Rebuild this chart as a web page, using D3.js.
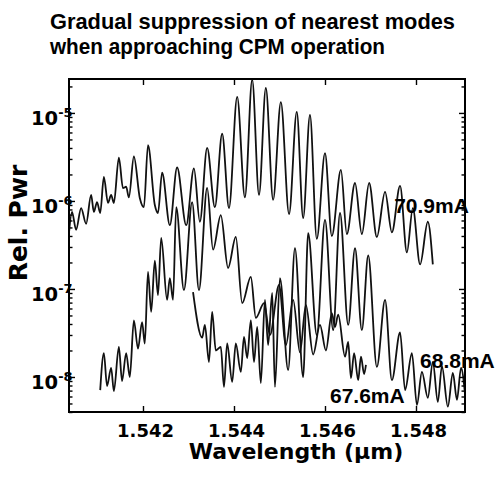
<!DOCTYPE html>
<html>
<head>
<meta charset="utf-8">
<script src="https://cdn.jsdelivr.net/npm/d3@7"></script>
<style>
  body { margin: 0; background: #fff; }
  .chart text { fill: #000; font-weight: bold; }
  .title { font-family: "Liberation Sans", Arial, sans-serif; font-size: 21.5px; }
  .note { font-family: "Liberation Sans", Arial, sans-serif; font-size: 21px; }
  .axisText { font-family: "DejaVu Sans", sans-serif; }
</style>
</head>
<body>
<div class="chart"></div>
<script>
// Spectra (wavelength in um, relative power)
var wl709 = [1.54037, 1.54044, 1.54053, 1.54064, 1.54075, 1.54086, 1.54092, 1.54099, 1.54106, 1.54114,
  1.54123, 1.54130, 1.54136, 1.54147, 1.54156, 1.54163, 1.54169, 1.54180, 1.54193, 1.54202,
  1.54211, 1.54226, 1.54233, 1.54242, 1.54259, 1.54275, 1.54295, 1.54312, 1.54325, 1.54341,
  1.54358, 1.54374, 1.54389, 1.54407, 1.54424, 1.54440, 1.54455, 1.54470, 1.54486, 1.54503,
  1.54521, 1.54538, 1.54552, 1.54567, 1.54582, 1.54600, 1.54615, 1.54635, 1.54648, 1.54666,
  1.54681, 1.54697, 1.54714, 1.54732, 1.54747, 1.54765, 1.54780, 1.54793, 1.54809, 1.54826,
  1.54837];
var pw709 = [4.1e-7, 7.5e-7, 4.7e-7, 8.3e-7, 5.5e-7, 1.17e-6, 7.5e-7, 9.7e-7, 7.3e-7, 1.87e-6,
  9.5e-7, 1.17e-6, 9.5e-7, 3.1e-6, 1.4e-6, 1.45e-6, 1.1e-6, 3.2e-6, 1.08e-6, 8.5e-7,
  4.3e-6, 9.0e-7, 7.3e-7, 2.1e-6, 5.3e-7, 2.4e-6, 5.3e-7, 2.35e-6, 5.8e-7, 4.0e-6,
  8.5e-7, 5.8e-6, 8.3e-7, 1.52e-5, 1.1e-6, 2.4e-5, 1.17e-6, 1.92e-5, 1.03e-6, 1.33e-5,
  7.1e-7, 1.03e-5, 6.4e-7, 9.5e-6, 3.7e-7, 3.5e-6, 4.0e-7, 2.25e-6, 4.2e-7, 1.6e-6,
  4.2e-7, 1.6e-6, 3.9e-7, 1.27e-6, 4.4e-7, 1.48e-6, 2.6e-7, 8.3e-7, 1.9e-7, 5.8e-7,
  1.9e-7];

var wl688 = [1.54310, 1.54330, 1.54336, 1.54345, 1.54352, 1.54360, 1.54371, 1.54378, 1.54385, 1.54396,
  1.54404, 1.54415, 1.54422, 1.54429, 1.54437, 1.54444, 1.54451, 1.54459, 1.54468, 1.54475,
  1.54484, 1.54490, 1.54501, 1.54519, 1.54534, 1.54552, 1.54563, 1.54582, 1.54600, 1.54618,
  1.54633, 1.54651, 1.54666, 1.54681, 1.54695, 1.54714, 1.54732, 1.54747, 1.54765, 1.54776,
  1.54791, 1.54802, 1.54813, 1.54826, 1.54837, 1.54848, 1.54857, 1.54870, 1.54881, 1.54890,
  1.54899, 1.54908];
var pw688 = [9.2e-8, 2.8e-8, 3.9e-8, 1.48e-8, 5.5e-8, 2.0e-8, 2.2e-8, 7.7e-9, 2.4e-8, 8.8e-9,
  2.4e-8, 1.14e-8, 2.85e-8, 1.64e-8, 4.4e-8, 1.48e-8, 3.7e-8, 8.5e-9, 7.5e-8, 2.3e-8,
  9.0e-8, 7.7e-9, 1.33e-7, 1.2e-8, 2.9e-7, 1.0e-8, 4.3e-7, 3.0e-8, 6.1e-7, 3.4e-8,
  7.3e-7, 3.9e-8, 2.9e-7, 3.4e-8, 2.4e-7, 1.3e-8, 7.5e-8, 9.2e-9, 3.2e-8, 7.1e-9,
  1.87e-8, 4.8e-9, 1.14e-8, 5.8e-9, 1.48e-8, 5.2e-9, 1.33e-8, 4.6e-9, 1.11e-8, 5.5e-9,
  1.27e-8, 6.2e-9];

var wl676 = [1.54106, 1.54114, 1.54121, 1.54130, 1.54136, 1.54147, 1.54154, 1.54163, 1.54171, 1.54180,
  1.54189, 1.54198, 1.54204, 1.54211, 1.54218, 1.54226, 1.54233, 1.54240, 1.54253, 1.54259,
  1.54266, 1.54273, 1.54290, 1.54308, 1.54323, 1.54341, 1.54354, 1.54371, 1.54387, 1.54404,
  1.54418, 1.54437, 1.54448, 1.54466, 1.54479, 1.54499, 1.54514, 1.54530, 1.54545, 1.54558,
  1.54574, 1.54589, 1.54602, 1.54615, 1.54622, 1.54629, 1.54644, 1.54651, 1.54657, 1.54664,
  1.54673, 1.54679, 1.54686, 1.54690];
var pw676 = [7.1e-9, 1.87e-8, 7.9e-9, 1.27e-8, 6.9e-9, 2.2e-8, 9.0e-9, 1.87e-8, 1.0e-8, 4.4e-8,
  2.1e-8, 4.2e-8, 2.4e-8, 1.56e-7, 5.5e-8, 2.1e-7, 8.5e-8, 3.8e-7, 7.5e-8, 1.33e-7,
  7.5e-8, 8.5e-7, 9.7e-8, 9.7e-7, 9.7e-8, 1.41e-6, 2.8e-7, 6.9e-7, 1.73e-7, 3.9e-7,
  6.9e-8, 1.37e-7, 4.7e-8, 6.9e-8, 3.0e-8, 1.11e-7, 2.3e-8, 7.5e-8, 1.9e-8, 6.6e-8,
  1.8e-8, 3.9e-8, 2.0e-8, 5.3e-8, 3.7e-8, 5.1e-8, 1.7e-8, 2.5e-8, 9.7e-9, 1.87e-8,
  9.2e-9, 1.7e-8, 1.08e-8, 1.37e-8];

var traceNames = ["70.9mA", "68.8mA", "67.6mA"];
var xTicks = [1.542, 1.544, 1.546, 1.548];
var yTicks = [1e-5, 1e-6, 1e-7, 1e-8];
var yTickExp = ["-5", "-6", "-7", "-8"];
var titleLines = ["Gradual suppression of nearest modes", "when approaching CPM operation"];

var svgWidth = 498;
var svgHeight = 477;

var margin = {
  top: 79,
  right: 33,
  bottom: 65,
  left: 69
};

var width = svgWidth - margin.left - margin.right;
var height = svgHeight - margin.top - margin.bottom;

var svg = d3.select(".chart")
  .append("svg")
  .attr("width", svgWidth)
  .attr("height", svgHeight);

var chartGroup = svg.append("g")
  .attr("transform", `translate(${margin.left}, ${margin.top})`);

// Scales
var xScale = d3.scaleLinear()
  .domain([1.540374, 1.549077])
  .range([0, width]);

var yScale = d3.scaleLog()
  .domain([4.0e-9, 2.43e-5])
  .range([height, 0]);

// Title, two lines
var titleWidths = [405, 335];
svg.selectAll(".title")
  .data(titleLines)
  .enter()
  .append("text")
  .attr("class", "title")
  .attr("x", 50)
  .attr("y", (d, i) => 29 + i * 24.5)
  .attr("textLength", (d, i) => titleWidths[i])
  .attr("lengthAdjust", "spacingAndGlyphs")
  .text(d => d);

// Traces
chartGroup.append("clipPath")
  .attr("id", "plotClip")
  .append("rect")
  .attr("width", width)
  .attr("height", height);

var line = d3.line()
  .x(d => xScale(d[0]))
  .y(d => yScale(d[1]))
  .curve(d3.curveMonotoneX);

var traces = [d3.zip(wl709, pw709), d3.zip(wl688, pw688), d3.zip(wl676, pw676)];

chartGroup.append("g")
  .attr("clip-path", "url(#plotClip)")
  .selectAll("path")
  .data(traces)
  .enter()
  .append("path")
  .attr("d", line)
  .attr("fill", "none")
  .attr("stroke", "#111")
  .attr("stroke-width", 1.8)
  .attr("stroke-linejoin", "round");

// Axes: ticks point inward on all four sides
var allY = yScale.ticks();
var minorY = allY.filter(v => yTicks.indexOf(v) < 0);

function tickAxis(axis, values, size) {
  return axis.tickValues(values).tickSizeInner(-size).tickSizeOuter(0).tickFormat("");
}

var bottomAxis = d3.axisBottom(xScale)
  .tickValues(xTicks)
  .tickSizeInner(-6)
  .tickSizeOuter(0)
  .tickPadding(12)
  .tickFormat(d3.format(".3f"));

var xAxisG = chartGroup.append("g")
  .attr("transform", `translate(0, ${height})`)
  .call(bottomAxis);

xAxisG.selectAll("text")
  .attr("class", "axisText")
  .attr("dx", 2)
  .style("font-size", "18px");

chartGroup.append("g").call(tickAxis(d3.axisTop(xScale), xTicks, 6));
chartGroup.append("g").call(tickAxis(d3.axisLeft(yScale), yTicks, 6));
chartGroup.append("g").call(tickAxis(d3.axisLeft(yScale), minorY, 3.5));
chartGroup.append("g").attr("transform", `translate(${width}, 0)`).call(tickAxis(d3.axisRight(yScale), yTicks, 6));
chartGroup.append("g").attr("transform", `translate(${width}, 0)`).call(tickAxis(d3.axisRight(yScale), minorY, 3.5));

chartGroup.selectAll(".domain").remove();
chartGroup.selectAll(".tick line")
  .attr("stroke", "#000")
  .attr("stroke-width", 1.4);

chartGroup.append("rect")
  .attr("width", width)
  .attr("height", height)
  .attr("fill", "none")
  .attr("stroke", "#000")
  .attr("stroke-width", 2);

// y tick labels as 10 with superscript exponent
var yLabels = svg.selectAll(".ylab")
  .data(yTicks)
  .enter()
  .append("text")
  .attr("class", "axisText ylab")
  .attr("x", 31)
  .attr("y", d => margin.top + yScale(d) + 12)
  .style("font-size", "19.5px");

yLabels.append("tspan").text("10");
yLabels.append("tspan")
  .attr("dy", -8)
  .style("font-size", "13px")
  .text((d, i) => yTickExp[i]);

// Axis labels
svg.append("text")
  .attr("class", "axisText")
  .attr("transform", "translate(27, 223) rotate(-90)")
  .attr("text-anchor", "middle")
  .style("font-size", "25px")
  .text("Rel. Pwr");

svg.append("text")
  .attr("class", "axisText")
  .attr("x", 296)
  .attr("y", 459)
  .attr("text-anchor", "middle")
  .style("font-size", "22px")
  .text("Wavelength (\u03bcm)");

// Trace labels
var notePos = [[1.54752, 7.3e-7], [1.54809, 1.27e-8], [1.54611, 5.06e-9]];
svg.selectAll(".note")
  .data(traceNames)
  .enter()
  .append("text")
  .attr("class", "note")
  .attr("x", (d, i) => margin.left + xScale(notePos[i][0]))
  .attr("y", (d, i) => margin.top + yScale(notePos[i][1]))
  .text(d => d);
</script>
</body>
</html>
